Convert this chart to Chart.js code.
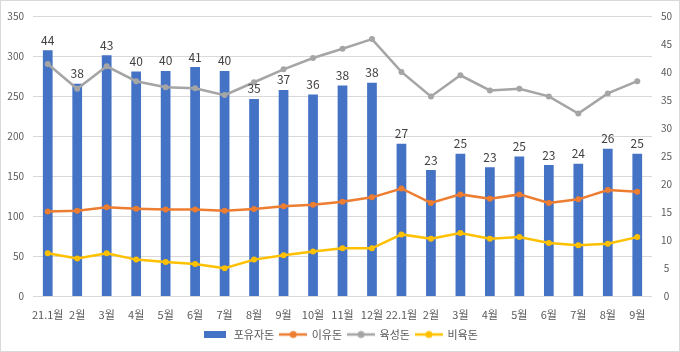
<!DOCTYPE html>
<html><head><meta charset="utf-8">
<script src="https://cdn.jsdelivr.net/npm/chart.js@4"></script>
<style>
html,body{margin:0;padding:0;background:#fff;}
#wrap{position:relative;width:680px;height:352px;box-sizing:border-box;border:1px solid #d9d9d9;}
</style></head>
<body><div id="wrap"><canvas id="c"></canvas></div>
<script>
const categories = ['21.1월','2월','3월','4월','5월','6월','7월','8월','9월','10월','11월','12월','22.1월','2월','3월','4월','5월','6월','7월','8월','9월'];
const suckling = [43.9,37.9,43.0,40.1,40.2,40.9,40.2,35.2,36.8,36.0,37.6,38.1,27.2,22.5,25.4,23.0,24.9,23.4,23.6,26.3,25.4];
const weaner = [105.5,106.7,110.9,109.2,108.0,108.0,106.7,108.8,112.1,114.2,117.9,123.3,134.4,116.3,127.0,121.6,127.0,116.3,120.8,132.4,130.3];
const grower = [290.0,259.0,287.1,268.5,261.0,259.8,251.1,267.2,283.3,297.5,309.0,321.1,280.1,249.5,275.9,256.9,259.0,249.5,228.0,253.2,268.5];
const finisher = [53.4,46.8,53.4,45.5,42.6,40.1,34.8,45.5,50.9,55.5,59.6,59.6,77.0,71.6,78.6,71.6,73.6,66.2,63.3,65.4,73.6];
const seriesNames = ['포유자돈','이유돈','육성돈','비육돈'];
const leftTicks = [0,50,100,150,200,250,300,350];
const rightTicks = [0,5,10,15,20,25,30,35,40,45,50];

const FONT = "'Noto Sans CJK KR','Noto Sans',sans-serif";
const BLUE='#4472C4', ORANGE='#ED7D31', GRAY='#A5A5A5', YELLOW='#FFC000';

function lineIcon(color){
  const c=document.createElement('canvas'); c.width=28; c.height=10;
  const x=c.getContext('2d');
  x.strokeStyle=color; x.lineWidth=2.5; x.beginPath(); x.moveTo(0,5); x.lineTo(28,5); x.stroke();
  x.fillStyle=color; x.beginPath(); x.arc(14,5,3.5,0,Math.PI*2); x.fill();
  return c;
}
function boxIcon(color){
  const c=document.createElement('canvas'); c.width=22; c.height=7;
  const x=c.getContext('2d'); x.fillStyle=color; x.fillRect(0,0,22,7);
  return c;
}

const barLabels = {
  id:'barLabels',
  afterDatasetsDraw(chart){
    const ctx=chart.ctx; const meta=chart.getDatasetMeta(0);
    ctx.save(); ctx.font="12px "+FONT; ctx.fillStyle='#404040';
    ctx.textAlign='center'; ctx.textBaseline='bottom';
    meta.data.forEach((el,i)=>{ ctx.fillText(String(Math.round(suckling[i])), el.x, el.y-4); });
    ctx.restore();
  }
};

new Chart(document.getElementById('c'),{
  type:'bar',
  data:{labels:categories,datasets:[
    {type:'bar',label:seriesNames[0],data:suckling,yAxisID:'y1',backgroundColor:BLUE,borderWidth:0,
     barPercentage:0.66,categoryPercentage:0.5,order:2},
    {type:'line',label:seriesNames[1],data:weaner,yAxisID:'y',borderColor:ORANGE,backgroundColor:ORANGE,borderWidth:2.5,pointRadius:3,pointBorderWidth:0,order:1,tension:0},
    {type:'line',label:seriesNames[2],data:grower,yAxisID:'y',borderColor:GRAY,backgroundColor:GRAY,borderWidth:2.5,pointRadius:3,pointBorderWidth:0,order:1,tension:0},
    {type:'line',label:seriesNames[3],data:finisher,yAxisID:'y',borderColor:YELLOW,backgroundColor:YELLOW,borderWidth:2.5,pointRadius:3,pointBorderWidth:0,order:1,tension:0}
  ]},
  options:{
    responsive:true,maintainAspectRatio:false,animation:false,
    layout:{padding:{top:6,left:0,right:0,bottom:1}},
    plugins:{
      tooltip:{enabled:false},
      legend:{position:'bottom',
        labels:{usePointStyle:true,pointStyleWidth:26,padding:6,color:'#595959',font:{family:FONT,size:11},
          sort:(a,b)=>a.datasetIndex-b.datasetIndex,
          generateLabels(chart){
            const icons=[boxIcon(BLUE),lineIcon(ORANGE),lineIcon(GRAY),lineIcon(YELLOW)];
            return chart.data.datasets.map((d,i)=>({text:d.label,datasetIndex:i,pointStyle:icons[i],fillStyle:'#fff',strokeStyle:'#fff',lineWidth:0,fontColor:'#595959',hidden:false}));
          }}}
    },
    scales:{
      x:{grid:{display:false},border:{display:false},
         ticks:{color:'#595959',font:{family:FONT,size:11},maxRotation:0,autoSkip:false,padding:4},
         afterFit(s){s.height=27;}},
      y:{position:'left',min:0,max:350,
         afterBuildTicks(s){s.ticks=leftTicks.map(v=>({value:v}));},
         grid:{color:'#d9d9d9',lineWidth:1,drawTicks:false},border:{display:false},
         ticks:{color:'#595959',font:{family:FONT,size:10},padding:9},
         afterFit(s){s.width=32;}},
      y1:{position:'right',min:0,max:50,
         afterBuildTicks(s){s.ticks=rightTicks.map(v=>({value:v}));},
         grid:{display:false,drawTicks:false},border:{display:false},
         ticks:{color:'#595959',font:{family:FONT,size:10},padding:9,crossAlign:'center'},
         afterFit(s){s.width=27;}}
    }
  },
  plugins:[barLabels]
});
</script></body></html>
